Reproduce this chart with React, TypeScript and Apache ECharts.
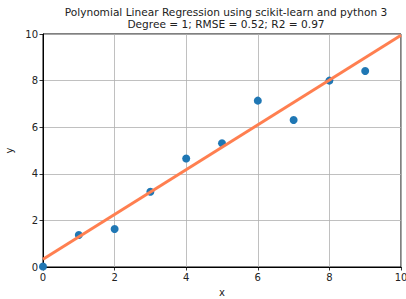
import React, { useEffect, useRef } from "react";
import * as echarts from "echarts";

const pointX = [0, 1, 2, 3, 4, 5, 6, 7, 8, 9];
const pointY = [0.02, 1.37, 1.63, 3.23, 4.66, 5.31, 7.14, 6.31, 8.0, 8.41];
const fitX = [0, 10];
const fitY = [0.33, 9.95];
const tickValues = [0, 2, 4, 6, 8, 10];
const titleText = "Polynomial Linear Regression using scikit-learn and python 3\nDegree = 1; RMSE = 0.52; R2 = 0.97";

export default function App() {
  const ref = useRef<HTMLDivElement>(null);
  useEffect(() => {
    document.body.style.margin = "0";
    const chart = echarts.init(ref.current!, null, { renderer: "svg" });
    const font = "DejaVu Sans";
    const axisCommon = (name: string) => ({
      type: "value" as const,
      min: tickValues[0],
      max: tickValues[tickValues.length - 1],
      interval: 2,
      name,
      nameLocation: "middle" as const,
      nameTextStyle: { fontFamily: font, fontSize: 10, color: "#222" },
      axisLine: { show: true, onZero: false, lineStyle: { color: "#000", width: 1 } },
      axisTick: { show: true, length: 3.5, lineStyle: { color: "#000", width: 0.8 } },
      axisLabel: { fontFamily: font, fontSize: 10, color: "#222", margin: 5 },
      splitLine: { show: true, lineStyle: { color: "#b0b0b0", width: 0.8 } },
    });
    chart.setOption({
      animation: false,
      backgroundColor: "#fff",
      title: {
        text: titleText,
        left: 221,
        textAlign: "center",
        top: 1,
        textStyle: { fontFamily: font, fontSize: 10.6, fontWeight: "normal", color: "#222", lineHeight: 12 },
      },
      grid: {
        left: 43,
        right: 5,
        top: 34,
        bottom: 32,
        show: true,
        borderColor: "#000",
        borderWidth: 1,
        containLabel: false,
        outerBoundsMode: "none",
      },
      xAxis: { ...axisCommon("x"), nameGap: 20 },
      yAxis: { ...axisCommon("y"), nameGap: 28 },
      series: [
        {
          type: "scatter",
          data: pointX.map((x, i) => [x, pointY[i]]),
          symbolSize: 8,
          itemStyle: { color: "#1f77b4", opacity: 1 },
          z: 2,
          clip: false,
        },
        {
          type: "line",
          data: fitX.map((x, i) => [x, fitY[i]]),
          showSymbol: false,
          symbol: "none",
          lineStyle: { color: "#ff7f50", width: 3 },
          z: 3,
        },
      ],
    });
    return () => chart.dispose();
  }, []);
  return <div ref={ref} style={{ position: "absolute", left: 0, top: 0, width: 406, height: 299 }} />;
}
